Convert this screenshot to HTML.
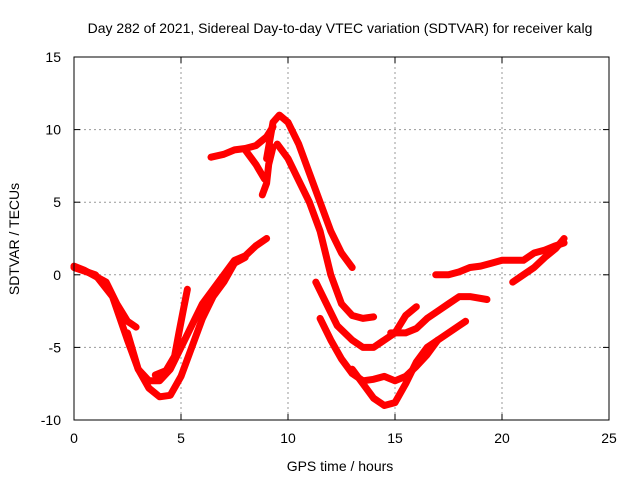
<!DOCTYPE html>
<html><head><meta charset="utf-8"><style>
body{margin:0;background:#fff;}
svg{display:block;font-family:"Liberation Sans",sans-serif;}
</style></head><body>
<svg id="chart" width="640" height="480" viewBox="0 0 640 480">
<text x="340" y="33" font-size="14" text-anchor="middle">Day 282 of 2021, Sidereal Day-to-day VTEC variation (SDTVAR) for receiver kalg</text>
<g id="grid"></g>
<g id="series"></g>
<rect x="74" y="57" width="535" height="363" fill="none" stroke="#000" stroke-width="1"/>
<g id="ticks"></g>
<text x="340" y="471" font-size="14" text-anchor="middle">GPS time / hours</text>
<text transform="translate(19,239) rotate(-90)" font-size="14" text-anchor="middle">SDTVAR / TECUs</text>
</svg>
<script>
const xTicks=[0,5,10,15,20,25];
const yTicks=[-10,-5,0,5,10,15];
const trA_h=[0,1,1.8,2.5,3,3.5,4,4.5,5,5.5,6,6.5,7,7.5,8,8.5,9];
const trA_v=[0.5,0,-1.5,-4.5,-6.5,-7.3,-7.3,-6.5,-5,-3.5,-2,-1,0,1,1.3,2,2.5];
const trB_h=[0,0.5,1.5,2,2.5,2.9];
const trB_v=[0.6,0.3,-0.5,-2,-3.2,-3.6];
const trC_h=[2.5,3,3.5,4,4.5,5,5.5,6,6.5,7,7.5,8];
const trC_v=[-4,-6.5,-7.8,-8.4,-8.3,-7,-5,-3,-1.5,-0.5,0.8,1.2];
const trD_h=[3.8,4.3,4.7,4.9,5.1,5.3];
const trD_v=[-6.9,-6.6,-5.6,-4,-2.5,-1];
const trE_h=[6.4,7,7.5,8,8.5,9,9.3];
const trE_v=[8.1,8.3,8.6,8.7,8.9,9.5,10.2];
const trE2_h=[8,8.5,8.9];
const trE2_v=[8.6,7.6,6.6];
const trE3_h=[9.3,9.1,9,8.8];
const trE3_v=[8.8,7.6,6.3,5.5];
const trF_h=[9,9.3,9.6,10,10.5,11,11.5,12,12.5,13];
const trF_v=[8,10.5,11,10.5,9,7,5,3,1.5,0.5];
const trG_h=[9.5,10,10.5,11,11.5,12,12.5,13,13.5,14];
const trG_v=[9,8,6.5,5,3,0,-2,-2.8,-3,-2.9];
const trH_h=[11.3,11.8,12.3,13,13.5,14,14.5,15];
const trH_v=[-0.5,-2,-3.5,-4.5,-5,-5,-4.5,-4];
const trI_h=[11.5,12,12.5,13,13.5,14,14.5,15,15.5,16,16.5,17,17.5,18,18.3];
const trI_v=[-3,-4.5,-5.8,-6.8,-7.3,-7.2,-7,-7.3,-7,-6.3,-5.5,-4.5,-4,-3.5,-3.2];
const trJ_h=[13,13.5,14,14.5,15,15.5,16,16.5,17];
const trJ_v=[-6.5,-7.5,-8.5,-9,-8.8,-7.5,-6,-5,-4.5];
const trK_h=[14.8,15.5,16,16.5,17,17.5,18,18.5,19.3];
const trK_v=[-4,-4,-3.7,-3,-2.5,-2,-1.5,-1.5,-1.7];
const trK2_h=[15,15.5,16];
const trK2_v=[-4,-2.8,-2.2];
const trL_h=[16.9,17.5,18,18.5,19,19.5,20,21,21.5,22,22.5,22.9];
const trL_v=[0,0,0.2,0.5,0.6,0.8,1,1,1.5,1.7,2,2.2];
const trM_h=[20.5,21,21.5,22,22.5,22.9];
const trM_v=[-0.5,0,0.5,1.2,1.8,2.5];
const allH=[trA_h,trB_h,trC_h,trD_h,trE_h,trE2_h,trE3_h,trF_h,trG_h,trH_h,trI_h,trJ_h,trK_h,trK2_h,trL_h,trM_h];
const allV=[trA_v,trB_v,trC_v,trD_v,trE_v,trE2_v,trE3_v,trF_v,trG_v,trH_v,trI_v,trJ_v,trK_v,trK2_v,trL_v,trM_v];
const NS="http://www.w3.org/2000/svg";
function sx(h){return 74+h*(535/25);}
function sy(v){return 420-(v+10)*(363/25);}
const grid=document.getElementById('grid'),ticks=document.getElementById('ticks'),ser=document.getElementById('series');
function mk(tag,attrs,parent){const e=document.createElementNS(NS,tag);for(const k in attrs)e.setAttribute(k,attrs[k]);parent.appendChild(e);return e;}
xTicks.forEach(t=>{
  const x=sx(t);
  if(t>0&&t<25){const g=mk('line',{x1:x,x2:x,y1:57,y2:420,stroke:'#999','stroke-dasharray':'2,3'},grid);
  
  }
  mk('line',{x1:x,x2:x,y1:420,y2:414,stroke:'#000'},ticks);
  mk('line',{x1:x,x2:x,y1:57,y2:63,stroke:'#000'},ticks);
  const l=mk('text',{x:x,y:443,'font-size':14,'text-anchor':'middle'},ticks);l.textContent=t;
  
  
});
yTicks.forEach(t=>{
  const y=sy(t);
  if(t>-10&&t<15){const g=mk('line',{x1:74,x2:609,y1:y,y2:y,stroke:'#999','stroke-dasharray':'2,3'},grid);
  
  }
  mk('line',{x1:74,x2:80,y1:y,y2:y,stroke:'#000'},ticks);
  mk('line',{x1:603,x2:609,y1:y,y2:y,stroke:'#000'},ticks);
  const l=mk('text',{x:61,y:y+5,'font-size':14,'text-anchor':'end'},ticks);l.textContent=t;
  
  
});
allH.forEach((hs,i)=>{
  const vs=allV[i];
  const pts=hs.map((h,j)=>sx(h).toFixed(1)+','+sy(vs[j]).toFixed(1)).join(' ');
  const p=mk('polyline',{points:pts,fill:'none',stroke:'#f00','stroke-width':7,'stroke-linejoin':'round','stroke-linecap':'round'},ser);
  
  
});
</script>
</body></html>
